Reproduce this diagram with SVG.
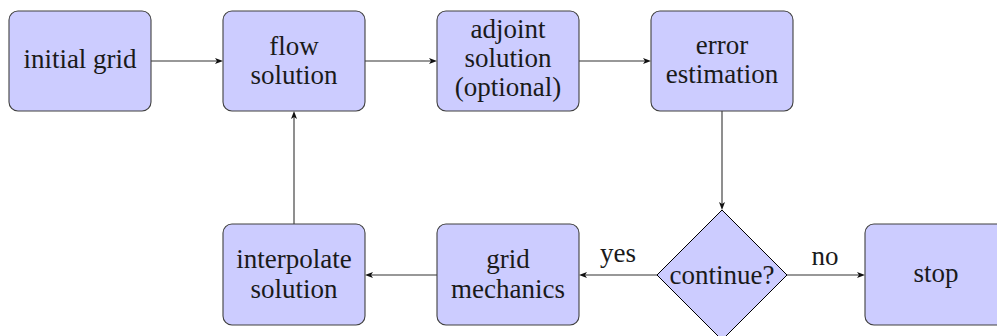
<svg xmlns="http://www.w3.org/2000/svg" width="997" height="336" viewBox="0 0 997 336">
<style>
.box{fill:#ccccff;stroke:#404040;stroke-width:1.1}
.dia{fill:#ccccff;stroke:#000;stroke-width:1}
.lbl{fill:#1a1a1a;text-anchor:middle;font-family:Liberation Serif,serif;font-size:27px}
.edge{stroke:#333;stroke-width:1.1;fill:none}
.tip{fill:#111}
</style>
<g id="connectors">
<line class="edge" x1="151" y1="61" x2="218" y2="61"/>
<polygon class="tip" points="223,61 215,58 217,61 215,64"/>
<line class="edge" x1="365" y1="61" x2="432" y2="61"/>
<polygon class="tip" points="437,61 429,58 431,61 429,64"/>
<line class="edge" x1="579" y1="61" x2="646" y2="61"/>
<polygon class="tip" points="651,61 643,58 645,61 643,64"/>
<line class="edge" x1="722" y1="111" x2="722" y2="206"/>
<polygon class="tip" points="722,210 719,202 722,204 725,202"/>
<line class="edge" x1="657" y1="275" x2="583" y2="275"/>
<polygon class="tip" points="579,275 587,272 585,275 587,278"/>
<line class="edge" x1="787" y1="275" x2="861" y2="275"/>
<polygon class="tip" points="865,275 857,272 859,275 857,278"/>
<line class="edge" x1="437" y1="275" x2="369" y2="275"/>
<polygon class="tip" points="365,275 373,272 371,275 373,278"/>
<line class="edge" x1="294" y1="224" x2="294" y2="115"/>
<polygon class="tip" points="294,111 291,119 294,117 297,119"/>
</g>
<g id="initial-grid">
<rect class="box" x="9" y="11" width="142" height="100" rx="9"/>
</g>
<g id="flow-solution">
<rect class="box" x="223" y="11" width="142" height="100" rx="9"/>
</g>
<g id="adjoint-solution">
<rect class="box" x="437" y="11" width="142" height="100" rx="9"/>
</g>
<g id="error-estimation">
<rect class="box" x="651" y="11" width="142" height="100" rx="9"/>
</g>
<g id="continue">
<polygon class="dia" points="722,210 787,275 722,340 657,275"/>
</g>
<g id="grid-mechanics">
<rect class="box" x="437" y="224" width="142" height="101" rx="9"/>
</g>
<g id="interpolate-solution">
<rect class="box" x="223" y="224" width="142" height="101" rx="9"/>
</g>
<g id="stop">
<rect class="box" x="865" y="224" width="142" height="101" rx="9"/>
</g>
<text class="lbl" x="618" y="262">yes</text>
<text class="lbl" x="825" y="265">no</text>
<text class="lbl" x="80" y="68">initial grid</text>
<text class="lbl" x="294" y="55">flow</text>
<text class="lbl" x="294" y="84">solution</text>
<text class="lbl" x="508" y="38">adjoint</text>
<text class="lbl" x="508" y="67">solution</text>
<text class="lbl" x="508" y="96">(optional)</text>
<text class="lbl" x="722" y="54">error</text>
<text class="lbl" x="722" y="83">estimation</text>
<text class="lbl" x="722" y="284">continue?</text>
<text class="lbl" x="508" y="268">grid</text>
<text class="lbl" x="508" y="298">mechanics</text>
<text class="lbl" x="294" y="268">interpolate</text>
<text class="lbl" x="294" y="298">solution</text>
<text class="lbl" x="936" y="282">stop</text>
</svg>
